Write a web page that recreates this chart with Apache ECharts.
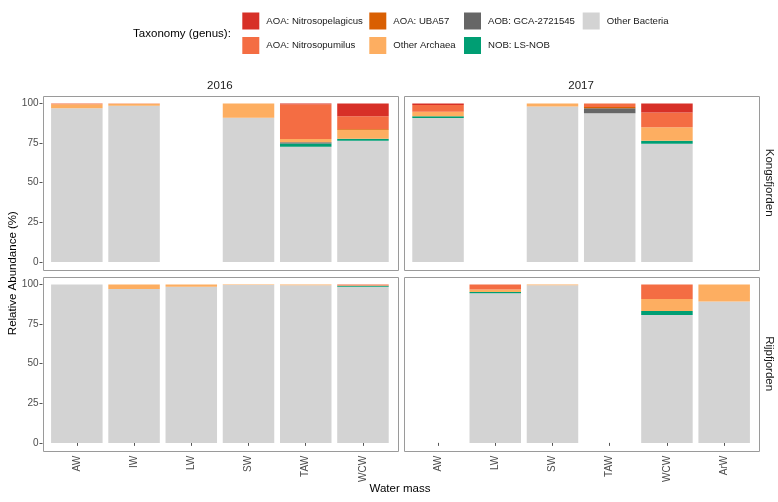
<!DOCTYPE html>
<html>
<head>
<meta charset="utf-8">
<script src="https://cdn.jsdelivr.net/npm/echarts@6/dist/echarts.min.js"></script>
<style>
  html, body { margin: 0; padding: 0; background: #fff; }
  #chart { width: 778px; height: 502px; }
</style>
</head>
<body>
<div id="chart"></div>
<script>
// legend order (ggplot puts the first level on top of the stack)
const taxa = ['AOA: Nitrosopelagicus', 'AOA: Nitrosopumilus', 'AOA: UBA57', 'Other Archaea',
              'AOB: GCA-2721545', 'NOB: LS-NOB', 'Other Bacteria'];
const taxaColors = ['#D73027', '#F46D43', '#D95F02', '#FDAE61', '#666666', '#009E73', '#D3D3D3'];

const masses2016 = ['AW', 'IW', 'LW', 'SW', 'TAW', 'WCW'];
const masses2017 = ['AW', 'LW', 'SW', 'TAW', 'WCW', 'ArW'];
const yTicks = [0, 25, 50, 75, 100];

// one row per water mass, values in taxa order; null = no sample
const kongs2016 = [
  [0, 0.5, 0, 2.5, 0, 0, 97.0],
  [0, 0.2, 0, 1.2, 0, 0, 98.6],
  null,
  [0, 0, 0, 9.1, 0, 0, 90.9],
  [0.5, 21.9, 0, 2.1, 0.8, 2.1, 72.6],
  [8.1, 8.0, 0.5, 5.7, 0, 1.2, 76.5]
];
const kongs2017 = [
  [1.0, 4.2, 0, 2.9, 0, 1.1, 90.8],
  null,
  [0, 0, 0, 2.0, 0, 0, 98.0],
  [0, 2.3, 0.7, 0, 3.2, 0, 93.8],
  [5.7, 9.3, 0, 8.6, 0, 1.9, 74.5],
  null
];
const rijp2016 = [
  [0, 0, 0, 0, 0, 0, 100],
  [0, 0, 0, 2.9, 0, 0, 97.1],
  [0, 0, 0, 1.5, 0, 0, 98.5],
  [0, 0, 0, 0.4, 0, 0, 99.6],
  [0, 0, 0, 0.5, 0, 0, 99.5],
  [0, 0.7, 0, 0.2, 0, 0.6, 98.5]
];
const rijp2017 = [
  null,
  [0, 3.2, 0, 1.6, 0, 0.8, 94.4],
  [0, 0, 0, 0.6, 0, 0, 99.4],
  null,
  [0, 9.2, 0, 7.6, 0, 2.5, 80.7],
  [0, 0, 0, 10.7, 0, 0, 89.3]
];

const panels = [
  {rows: kongs2016, cats: masses2016, col: 0, row: 0},
  {rows: kongs2017, cats: masses2017, col: 1, row: 0},
  {rows: rijp2016, cats: masses2016, col: 0, row: 1},
  {rows: rijp2017, cats: masses2017, col: 1, row: 1}
];

// panel boxes (ggplot-like expansion: 0.6 units on x, 5% on y)
const colLeft = [42.5, 403.7], panelW = 354.8;
const rowTop = [95.5, 276.5], panelH = 174.3;
const band = panelW / 6.2, padX = band * 0.1;
const dataH = panelH / 1.1, padY = (panelH - dataH) / 2;

const font = 'Liberation Sans, Arial, Helvetica, sans-serif';
const grids = [], xAxes = [], yAxes = [], series = [], graphics = [];

panels.forEach((p, i) => {
  grids.push({
    left: colLeft[p.col] + padX, top: rowTop[p.row] + padY,
    width: panelW - 2 * padX, height: dataH
  });
  const bottomRow = p.row === 1;
  xAxes.push({
    type: 'category', gridIndex: i, data: p.cats, offset: padY,
    axisLine: {show: false},
    axisTick: {show: bottomRow, alignWithLabel: true, length: 3, lineStyle: {color: '#555'}},
    axisLabel: {show: bottomRow, rotate: 90, margin: 5, fontSize: 10, color: '#4d4d4d', fontFamily: font}
  });
  const leftCol = p.col === 0;
  yAxes.push({
    type: 'value', gridIndex: i, min: 0, max: 100, interval: 25, offset: padX,
    splitLine: {show: false}, axisLine: {show: false},
    axisTick: {show: leftCol, length: 3, lineStyle: {color: '#555'}},
    axisLabel: {show: leftCol, margin: 4, fontSize: 10, color: '#4d4d4d', fontFamily: font}
  });
  // bottom of stack first
  for (let t = taxa.length - 1; t >= 0; t--) {
    series.push({
      type: 'bar', name: taxa[t], xAxisIndex: i, yAxisIndex: i, stack: 'panel' + i,
      barWidth: '90%', itemStyle: {color: taxaColors[t]},
      emphasis: {disabled: true},
      data: p.rows.map(r => r ? r[t] : null)
    });
  }
  graphics.push({
    type: 'rect', silent: true, z: 10,
    shape: {x: Math.round(colLeft[p.col]) + 0.5, y: Math.round(rowTop[p.row]) + 0.5,
            width: Math.round(panelW), height: Math.round(panelH)},
    style: {fill: 'none', stroke: '#9a9a9a', lineWidth: 1}
  });
});

const txt = (text, x, y, size, rotation, color) => ({
  type: 'text', x: x, y: y, rotation: rotation || 0, silent: true,
  style: {text: text, align: 'center', verticalAlign: 'middle', fontSize: size,
          fill: color || '#1a1a1a', fontFamily: font}
});
graphics.push(
  txt('2016', colLeft[0] + panelW / 2, 86, 11.5),
  txt('2017', colLeft[1] + panelW / 2, 86, 11.5),
  txt('Kongsfjorden', 769, rowTop[0] + panelH / 2, 11.5, -Math.PI / 2),
  txt('Rijpfjorden', 769, rowTop[1] + panelH / 2, 11.5, -Math.PI / 2),
  txt('Relative Abundance (%)', 13, (rowTop[0] + rowTop[1] + panelH) / 2, 11.5, Math.PI / 2, '#000'),
  txt('Water mass', 400, 488.5, 11.5, 0, '#000'),
  txt('Taxonomy (genus):', 182, 33.5, 11.5, 0, '#000')
);

const legendBase = {
  orient: 'vertical', top: 12.5, padding: 0, itemWidth: 17, itemHeight: 17, itemGap: 7.5,
  icon: 'rect', selectedMode: false,
  textStyle: {fontSize: 9.6, color: '#1a1a1a', fontFamily: font, padding: [0, 0, 0, 2]}
};
const legendCols = [[0, 1], [2, 3], [4, 5], [6]];
const legendLeft = [242.3, 369.3, 464, 582.7];

const chart = echarts.init(document.getElementById('chart'), null, {renderer: 'canvas'});
chart.setOption({
  animation: false,
  backgroundColor: '#fff',
  legend: legendCols.map((c, k) => Object.assign({}, legendBase, {
    left: legendLeft[k], data: c.map(t => taxa[t])
  })),
  grid: grids,
  xAxis: xAxes,
  yAxis: yAxes,
  series: series,
  graphic: graphics
});
window.addEventListener('resize', () => chart.resize());
</script>
</body>
</html>
